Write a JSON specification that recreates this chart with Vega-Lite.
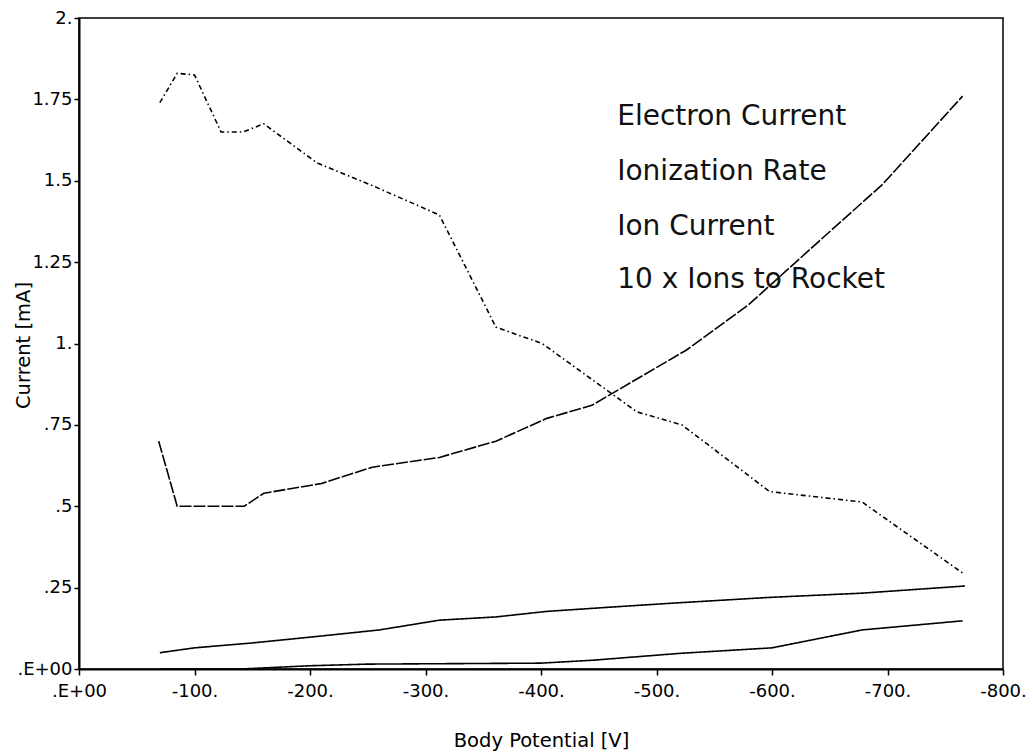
{
  "$schema": "https://vega.github.io/schema/vega-lite/v6.json",
  "autosize": {"type": "none"},
  "padding": {"left": 79, "top": 18, "right": 30, "bottom": 87},
  "width": 924,
  "height": 651,
  "background": "white",
  "config": {
    "view": {"stroke": "black", "strokeWidth": 1.5},
    "font": "DejaVu Sans",
    "axis": {"grid": false, "domainColor": "black", "tickColor": "black", "labelColor": "black", "titleColor": "black", "labelFont": "DejaVu Sans", "titleFont": "DejaVu Sans", "titleFontWeight": "normal"}
  },
  "datasets": {
    "curves": [
      {"series": "Electron Current", "x": -70, "y": 1.74},
      {"series": "Electron Current", "x": -85, "y": 1.83},
      {"series": "Electron Current", "x": -100, "y": 1.825},
      {"series": "Electron Current", "x": -123, "y": 1.65},
      {"series": "Electron Current", "x": -142, "y": 1.65},
      {"series": "Electron Current", "x": -160, "y": 1.675},
      {"series": "Electron Current", "x": -206, "y": 1.555},
      {"series": "Electron Current", "x": -254, "y": 1.485},
      {"series": "Electron Current", "x": -312, "y": 1.395},
      {"series": "Electron Current", "x": -361, "y": 1.05},
      {"series": "Electron Current", "x": -401, "y": 1.0},
      {"series": "Electron Current", "x": -483, "y": 0.79},
      {"series": "Electron Current", "x": -522, "y": 0.75},
      {"series": "Electron Current", "x": -598, "y": 0.545},
      {"series": "Electron Current", "x": -678, "y": 0.513},
      {"series": "Electron Current", "x": -765, "y": 0.295},
      {"series": "Ionization Rate", "x": -69, "y": 0.70},
      {"series": "Ionization Rate", "x": -85, "y": 0.50},
      {"series": "Ionization Rate", "x": -143, "y": 0.50},
      {"series": "Ionization Rate", "x": -160, "y": 0.54},
      {"series": "Ionization Rate", "x": -210, "y": 0.57},
      {"series": "Ionization Rate", "x": -254, "y": 0.62},
      {"series": "Ionization Rate", "x": -312, "y": 0.65},
      {"series": "Ionization Rate", "x": -361, "y": 0.70},
      {"series": "Ionization Rate", "x": -405, "y": 0.77},
      {"series": "Ionization Rate", "x": -444, "y": 0.81},
      {"series": "Ionization Rate", "x": -526, "y": 0.98},
      {"series": "Ionization Rate", "x": -580, "y": 1.12},
      {"series": "Ionization Rate", "x": -630, "y": 1.28},
      {"series": "Ionization Rate", "x": -696, "y": 1.49},
      {"series": "Ionization Rate", "x": -765, "y": 1.76},
      {"series": "Ion Current", "x": -70, "y": 0.05},
      {"series": "Ion Current", "x": -100, "y": 0.065},
      {"series": "Ion Current", "x": -150, "y": 0.08},
      {"series": "Ion Current", "x": -206, "y": 0.10},
      {"series": "Ion Current", "x": -260, "y": 0.12},
      {"series": "Ion Current", "x": -312, "y": 0.15},
      {"series": "Ion Current", "x": -361, "y": 0.16},
      {"series": "Ion Current", "x": -405, "y": 0.177},
      {"series": "Ion Current", "x": -460, "y": 0.19},
      {"series": "Ion Current", "x": -517, "y": 0.203},
      {"series": "Ion Current", "x": -598, "y": 0.22},
      {"series": "Ion Current", "x": -678, "y": 0.233},
      {"series": "Ion Current", "x": -767, "y": 0.255},
      {"series": "10 x Ions to Rocket", "x": -70, "y": 0.0},
      {"series": "10 x Ions to Rocket", "x": -140, "y": 0.0},
      {"series": "10 x Ions to Rocket", "x": -200, "y": 0.01},
      {"series": "10 x Ions to Rocket", "x": -250, "y": 0.015},
      {"series": "10 x Ions to Rocket", "x": -400, "y": 0.018},
      {"series": "10 x Ions to Rocket", "x": -445, "y": 0.027},
      {"series": "10 x Ions to Rocket", "x": -520, "y": 0.048},
      {"series": "10 x Ions to Rocket", "x": -600, "y": 0.065},
      {"series": "10 x Ions to Rocket", "x": -678, "y": 0.12},
      {"series": "10 x Ions to Rocket", "x": -765, "y": 0.148}
    ],
    "labels": [
      {"label": "Electron Current", "x": -466, "y": 1.671},
      {"label": "Ionization Rate", "x": -466, "y": 1.502},
      {"label": "Ion Current", "x": -466, "y": 1.333},
      {"label": "10 x Ions to Rocket", "x": -466, "y": 1.170}
    ]
  },
  "layer": [
    {
      "data": {"name": "curves"},
      "mark": {"type": "line", "color": "black", "strokeWidth": 1.6},
      "encoding": {
        "x": {
          "field": "x", "type": "quantitative",
          "scale": {"domain": [-800, 0], "reverse": true, "nice": false, "zero": false},
          "axis": {
            "title": "Body Potential [V]",
            "values": [0, -100, -200, -300, -400, -500, -600, -700, -800],
            "labelExpr": "datum.value == 0 ? '.E+00' : '' + datum.value + '.'",
            "labelFontSize": 18, "titleFontSize": 19.5,
            "tickSize": 6, "tickWidth": 1.5, "labelPadding": 7,
            "domainWidth": 2, "titleY": 77, "titleBaseline": "alphabetic",
            "labelFlush": false, "labelOverlap": false
          }
        },
        "y": {
          "field": "y", "type": "quantitative",
          "scale": {"domain": [0, 2], "nice": false},
          "axis": {
            "title": "Current [mA]",
            "values": [0, 0.25, 0.5, 0.75, 1, 1.25, 1.5, 1.75, 2],
            "labelExpr": "datum.value == 0 ? '.E+00' : (datum.value == 1 ? '1.' : (datum.value == 2 ? '2.' : replace('' + datum.value, '0.', '.')))",
            "labelFontSize": 18, "titleFontSize": 19.5,
            "tickSize": 5, "tickWidth": 1.5, "labelPadding": 2,
            "domainWidth": 2, "titleX": -56, "titleY": 327, "titleAngle": -90,
            "titleBaseline": "middle", "titleAlign": "center",
            "labelFlush": false, "labelOverlap": false
          }
        },
        "detail": {"field": "series"},
        "strokeDash": {
          "field": "series", "type": "nominal", "legend": null,
          "scale": {
            "domain": ["Electron Current", "Ionization Rate", "Ion Current", "10 x Ions to Rocket"],
            "range": [[5, 3, 1.5, 3], [12, 2], [1, 0], [1, 0]]
          }
        },
        "strokeWidth": {
          "field": "series", "type": "nominal", "legend": null,
          "scale": {
            "domain": ["Electron Current", "Ionization Rate", "Ion Current", "10 x Ions to Rocket"],
            "range": [1.5, 1.4, 2, 2]
          }
        }
      }
    },
    {
      "data": {"name": "labels"},
      "mark": {"type": "text", "align": "left", "baseline": "alphabetic", "fontSize": 28, "font": "DejaVu Sans", "color": "#111"},
      "encoding": {
        "x": {"field": "x", "type": "quantitative"},
        "y": {"field": "y", "type": "quantitative"},
        "text": {"field": "label"}
      }
    }
  ]
}
